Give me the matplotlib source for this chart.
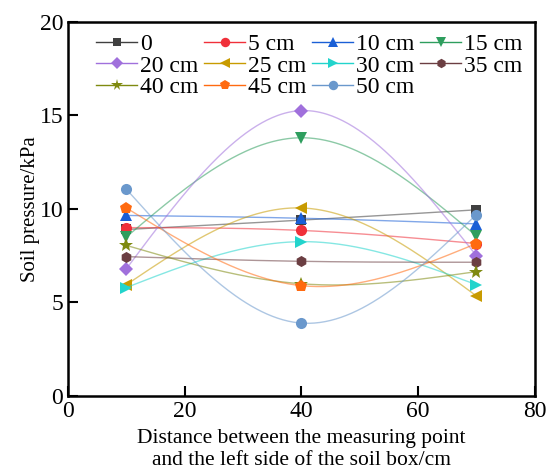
import numpy as np
import matplotlib
matplotlib.use("Agg")
import matplotlib.pyplot as plt

plt.rcParams['font.family'] = ['Liberation Serif', 'DejaVu Serif']

# measuring point positions (cm from the left side of the soil box)
x_pos = [10, 40, 70]

labels = ["0", "5 cm", "10 cm", "15 cm", "20 cm", "25 cm",
          "30 cm", "35 cm", "40 cm", "45 cm", "50 cm"]

p_0 = [8.9, 9.4, 9.95]
p_5 = [9.0, 8.85, 8.15]
p_10 = [9.65, 9.5, 9.2]
p_15 = [8.5, 13.8, 8.55]
p_20 = [6.8, 15.25, 7.5]
p_25 = [5.95, 10.05, 5.35]
p_30 = [5.8, 8.25, 5.95]
p_35 = [7.45, 7.2, 7.15]
p_40 = [8.05, 6.0, 6.65]
p_45 = [10.05, 5.9, 8.15]
p_50 = [11.05, 3.9, 9.7]

series = [p_0, p_5, p_10, p_15, p_20, p_25, p_30, p_35, p_40, p_45, p_50]

colors = ["#404040", "#f0303a", "#1a5fd6", "#2e9e5e", "#a070dc", "#c89b00",
          "#22d4cc", "#6b3e42", "#7f8a10", "#ff6a10", "#6a98cc"]
markers = ["s", "o", "^", "v", "D", "<", ">", "h", "*", "p", "o"]
msizes = [7, 8, 8, 8, 7, 8, 8, 8, 10, 9, 8]


def natural_spline(x, y, n=200):
    # natural cubic spline, like Origin's spline connect
    x = np.asarray(x, float)
    y = np.asarray(y, float)
    k = len(x)
    h = np.diff(x)
    A = np.zeros((k, k))
    b = np.zeros(k)
    A[0, 0] = 1
    A[-1, -1] = 1
    for i in range(1, k - 1):
        A[i, i - 1] = h[i - 1]
        A[i, i] = 2 * (h[i - 1] + h[i])
        A[i, i + 1] = h[i]
        b[i] = 6 * ((y[i + 1] - y[i]) / h[i] - (y[i] - y[i - 1]) / h[i - 1])
    M = np.linalg.solve(A, b)
    xs = np.linspace(x[0], x[-1], n)
    ys = np.empty_like(xs)
    for j, xv in enumerate(xs):
        i = min(np.searchsorted(x, xv, side="right") - 1, k - 2)
        t1 = x[i + 1] - xv
        t0 = xv - x[i]
        ys[j] = (M[i] * t1 ** 3 / (6 * h[i]) + M[i + 1] * t0 ** 3 / (6 * h[i])
                 + (y[i] / h[i] - M[i] * h[i] / 6) * t1
                 + (y[i + 1] / h[i] - M[i + 1] * h[i] / 6) * t0)
    return xs, ys


fig = plt.figure(figsize=(5.53, 4.71), dpi=100)
ax = fig.add_axes([0.123, 0.159, 0.844, 0.795])

for vals, lab, c, m, ms in zip(series, labels, colors, markers, msizes):
    xs, ys = natural_spline(x_pos, vals)
    ax.plot(xs, ys, color=c, lw=1.0, alpha=0.55)
    ax.plot(x_pos, vals, linestyle="none", marker=m, color=c, ms=ms,
            markeredgewidth=0)
    # legend proxy: line with marker in the middle
    ax.plot([], [], color=c, lw=1.0, marker=m, ms=ms * 0.85,
            markeredgewidth=0, label=lab)

ax.set_xlim(0, 80)
ax.set_ylim(0, 20)
ax.set_xticks([0, 20, 40, 60, 80])
ax.set_yticks([0, 5, 10, 15, 20])
ax.tick_params(direction="in", length=7, width=1.5, labelsize=17,
               top=False, right=False)
for s in ax.spines.values():
    s.set_linewidth(1.8)

ax.set_xlabel("Distance between the measuring point\nand the left side of the soil box/cm",
              fontsize=15.5, linespacing=1.2, labelpad=5)
ax.set_ylabel("Soil pressure/kPa", fontsize=15, labelpad=0)

# matplotlib fills legend columns first; reorder so entries read row by row
handles, labs = ax.get_legend_handles_labels()
order = [0, 4, 8, 1, 5, 9, 2, 6, 10, 3, 7]
ax.legend([handles[i] for i in order], [labs[i] for i in order], ncol=4,
          loc="upper left", bbox_to_anchor=(0.035, 1.0),
          frameon=False, fontsize=17, handlelength=1.75, handletextpad=0.1,
          columnspacing=0.25, labelspacing=0.0, borderaxespad=0.1)

fig.savefig("out.png", dpi=100)
